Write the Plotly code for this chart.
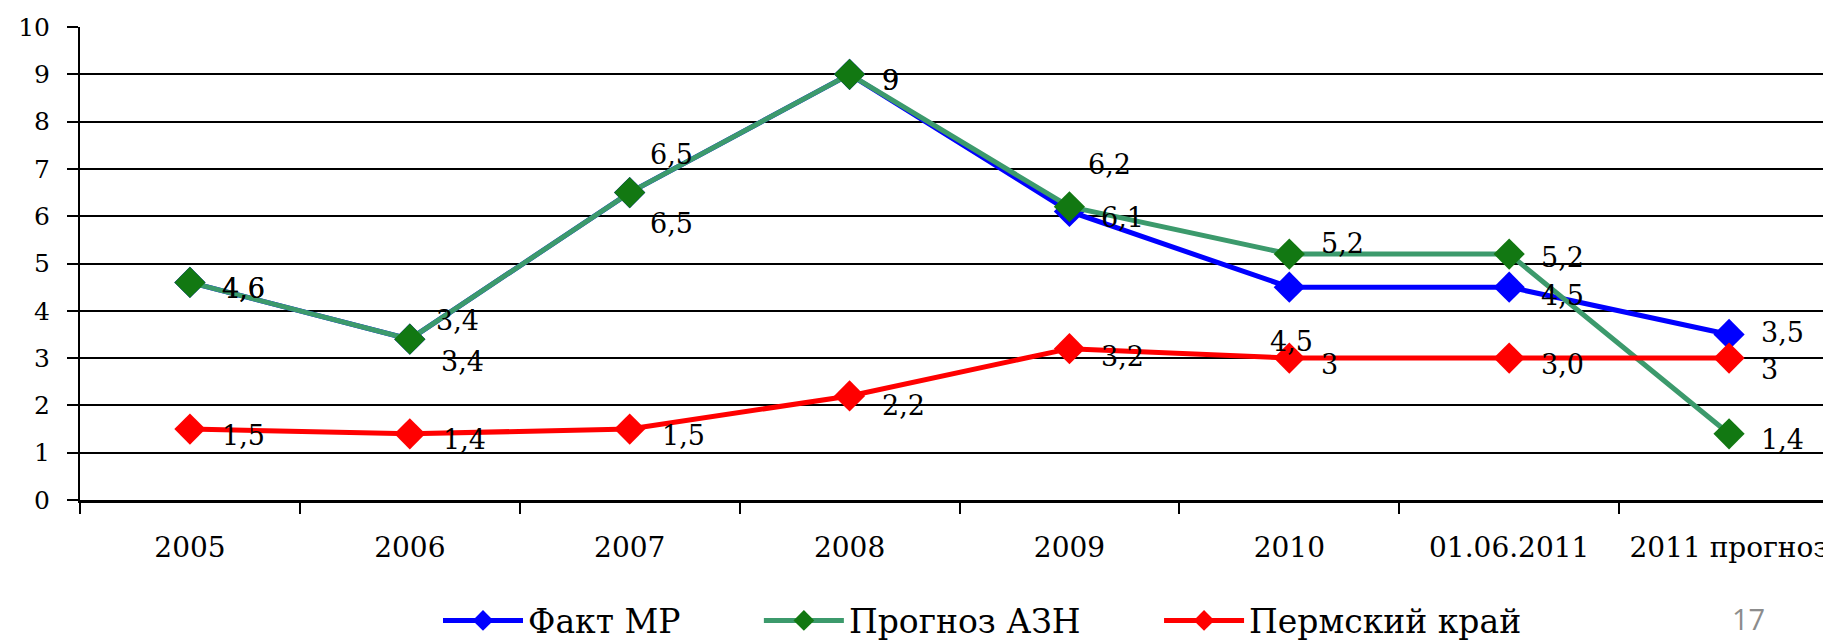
import plotly.graph_objects as go

categories = ["2005", "2006", "2007", "2008", "2009", "2010", "01.06.2011", "2011 прогноз"]
fakt_mr = [4.6, 3.4, 6.5, 9, 6.1, 4.5, 4.5, 3.5]
prognoz_azn = [4.6, 3.4, 6.5, 9, 6.2, 5.2, 5.2, 1.4]
perm_krai = [1.5, 1.4, 1.5, 2.2, 3.2, 3, 3.0, 3]
fakt_labels = ["4,6", "3,4", "6,5", "9", "6,1", "4,5", "4,5", "3,5"]
azn_labels = ["4,6", "3,4", "6,5", "9", "6,2", "5,2", "5,2", "1,4"]
perm_labels = ["1,5", "1,4", "1,5", "2,2", "3,2", "3", "3,0", "3"]
series_names = ["Факт МР", "Прогноз АЗН", "Пермский край"]

# label offsets in px (dx to left edge of text, dy downward positive)
fakt_off = [(30, 6), (29, 22), (18, 31), (30, 6), (30, 6), (-21, 54), (30, 8), (30, -2)]
azn_off = [(30, 6), (24, -19), (18, -38), (30, 6), (17, -42), (30, -11), (30, 3), (30, 6)]
perm_off = [(30, 6), (31, 6), (30, 6), (30, 10), (30, 8), (30, 6), (30, 6), (30, 11)]

FONT = "DejaVu Serif"
NBSP = "\u00a0"
legend_pad = [NBSP * 7, NBSP * 7, ""]
fig = go.Figure()

styles = [
    dict(line=dict(color="#0000FF", width=5), marker=dict(color="#0000FF", size=24, symbol="diamond")),
    dict(line=dict(color="#3C9A6C", width=5), marker=dict(color="#127812", size=24, symbol="diamond")),
    dict(line=dict(color="#FF0000", width=5), marker=dict(color="#FF0000", size=24, symbol="diamond")),
]
for name, pad, vals, st in zip(series_names, legend_pad, [fakt_mr, prognoz_azn, perm_krai], styles):
    fig.add_trace(go.Scatter(x=categories, y=vals, mode="lines+markers", name=name + pad,
                             line=st["line"], marker=dict(**st["marker"], line=dict(width=0))))

annotations = []
for vals, labels, offs in [(fakt_mr, fakt_labels, fakt_off), (prognoz_azn, azn_labels, azn_off), (perm_krai, perm_labels, perm_off)]:
    for i, (v, t, (dx, dy)) in enumerate(zip(vals, labels, offs)):
        annotations.append(dict(x=i, y=v, xref="x", yref="y", text=t, showarrow=False,
                                xanchor="left", yanchor="middle",
                                xshift=dx, yshift=-dy, font=dict(family=FONT, size=27, color="black")))

annotations.append(dict(x=(1740 - 72) / (1831 - 72), y=-(623 - 502) / 483.0, xref="paper", yref="paper",
                        text="17", showarrow=False, xanchor="center", yanchor="middle",
                        font=dict(family="Open Sans", size=29, color="#8c8c8c")))

fig.update_layout(
    width=1831, height=641,
    margin=dict(l=72, r=0, t=19, b=139),
    paper_bgcolor="white", plot_bgcolor="white",
    showlegend=True,
    legend=dict(orientation="h", x=(430 - 72) / 1759, xanchor="left", y=-(625 - 502) / 483.0, yanchor="middle",
                font=dict(family=FONT, size=33, color="black"), itemwidth=80,
                tracegroupgap=0, traceorder="normal"),
    annotations=annotations,
)

fig.update_xaxes(type="category", range=[-0.5, 7.5], showline=True, linecolor="black", linewidth=3,
                 ticks="outside", tickson="boundaries", ticklen=11, tickwidth=1.5, tickcolor="black",
                 showgrid=False, ticklabelstandoff=20,
                 tickfont=dict(family=FONT, size=28, color="black"))
fig.update_yaxes(range=[0, 10], dtick=1, showline=True, linecolor="black", linewidth=2,
                 ticks="outside", ticklen=11, tickwidth=1.5, tickcolor="black",
                 showgrid=True, gridcolor="black", gridwidth=1.5, zeroline=False,
                 ticklabelstandoff=12,
                 tickfont=dict(family=FONT, size=25, color="black"))

fig.write_html("out.html")
